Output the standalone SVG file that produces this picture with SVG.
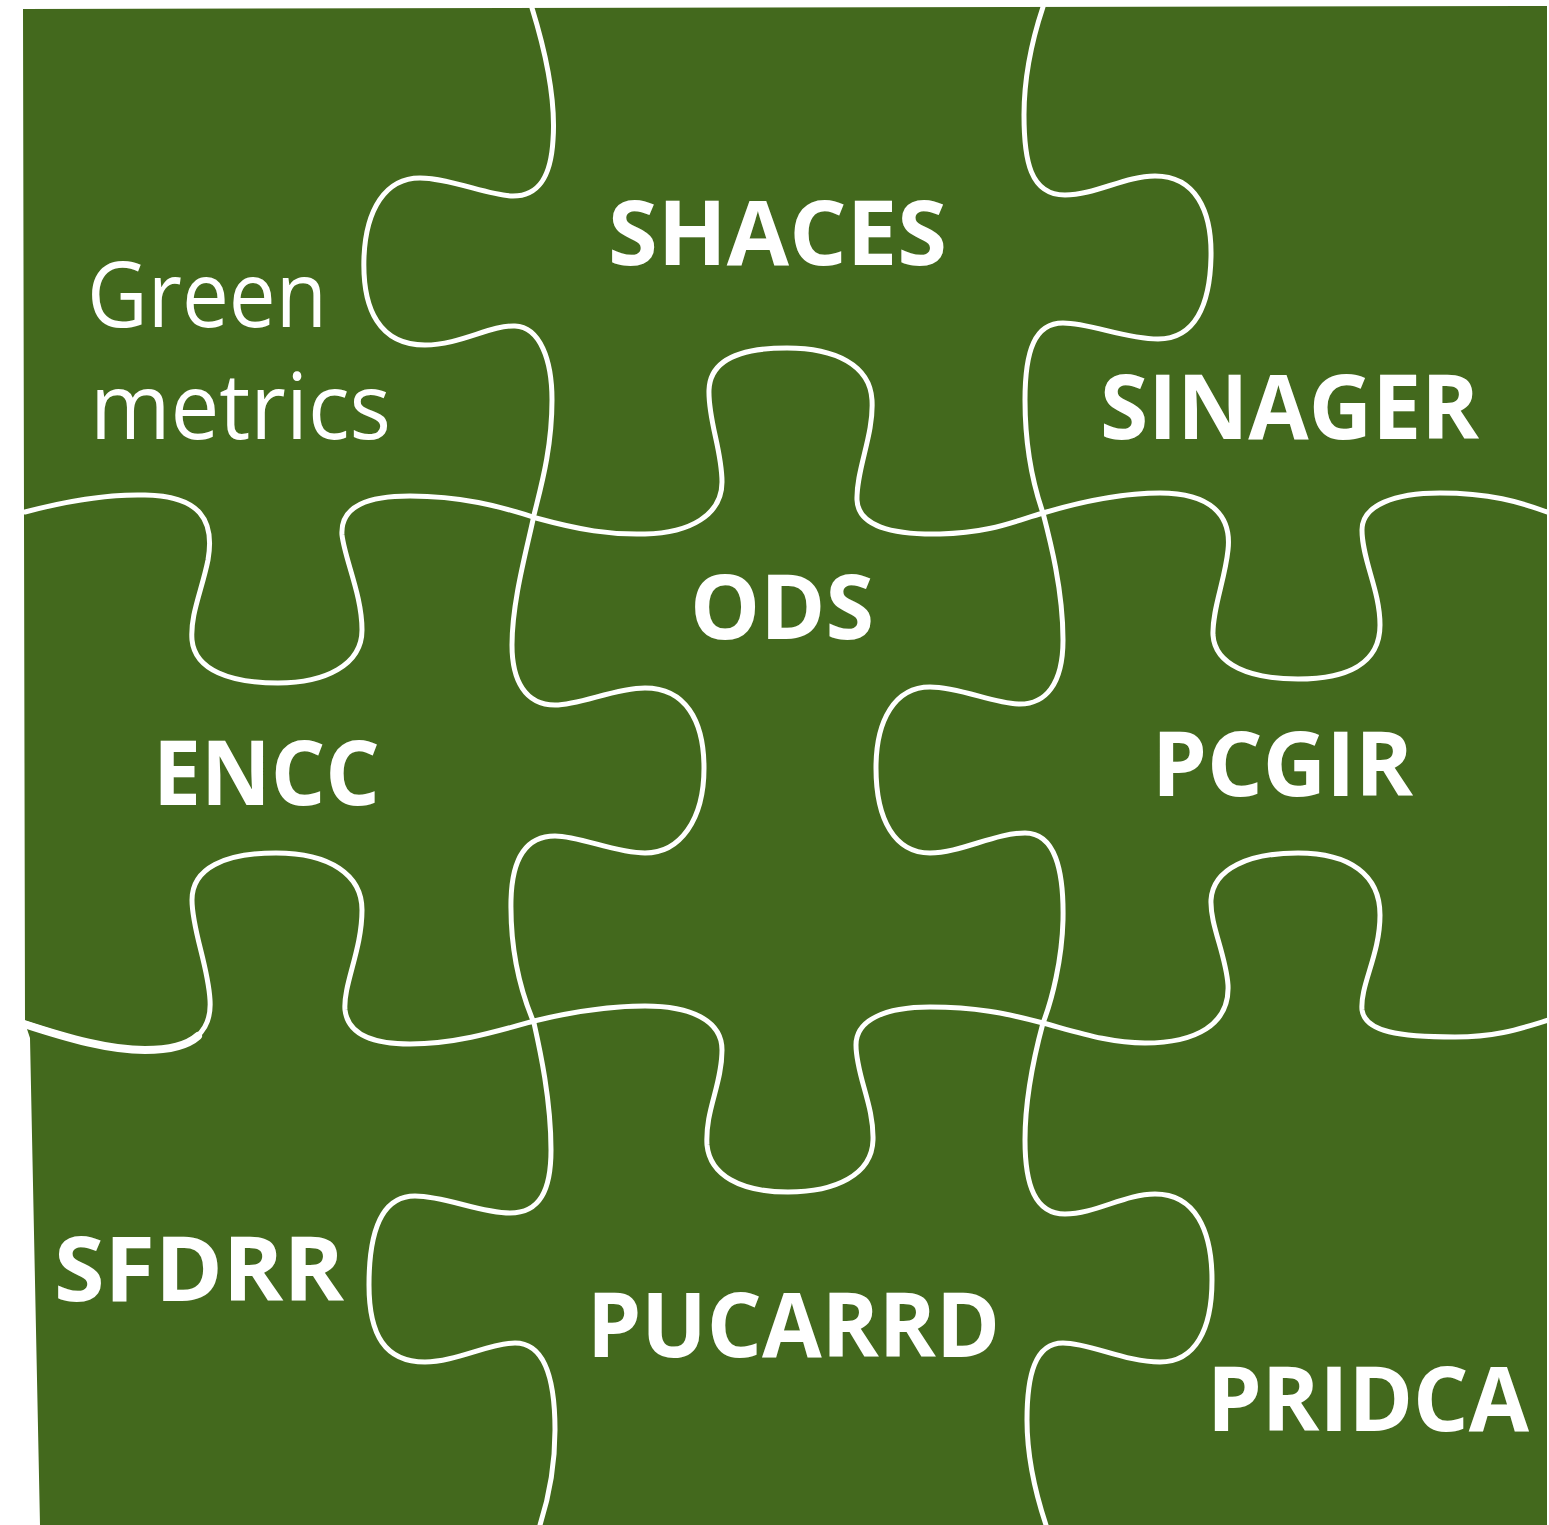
<svg xmlns="http://www.w3.org/2000/svg" width="1549" height="1525" viewBox="0 0 1549 1525">
  <style>
    .bg { fill: #43691d; }
    .cut { fill: none; stroke: #ffffff; stroke-width: 5; stroke-linecap: round; stroke-linejoin: round; }
    .lbl { fill: #ffffff; font-family: "Open Sans", "Noto Sans", "Liberation Sans", sans-serif; font-weight: 700; font-size: 90px; }
    .lbl-r { fill: #ffffff; font-family: "Open Sans", "Noto Sans", "Liberation Sans", sans-serif; font-weight: 400; font-size: 91px; }
  </style>
  <rect x="0" y="0" width="1549" height="1525" fill="#ffffff"/>
  <g id="board">
    <path class="bg" d="M23,9 L1547,6 L1547,1525 L40,1525 L30,1038 L25,1023 Z"/>
  </g>
  <g id="connectors">
    <path class="cut" d="M532,8 C545,50 556,100 553,140 C551,175 540,196 513,196 C490,196 450,178 420,178 C385,178 366,210 364,257 C362,310 380,345 425,345 C460,345 490,325 515,326 C540,327 552,360 552,400 C552,450 540,490 534,515 C528,545 512,600 512,645 C512,680 525,705 555,705 C580,705 615,688 645,688 C685,688 704,720 704,768 C704,820 680,853 645,853 C615,853 580,836 555,836 C525,836 512,860 511,900 C510,950 520,990 534,1023 C540,1050 551,1100 551,1150 C551,1190 540,1213 510,1213 C480,1213 445,1196 415,1196 C380,1196 369,1235 369,1285 C369,1335 385,1362 425,1362 C455,1362 490,1343 515,1343 C545,1343 555,1380 555,1430 C555,1470 548,1500 540,1525"/>
    <path class="cut" d="M1043,7 C1032,40 1024,80 1024,115 C1024,160 1030,195 1065,195 C1095,195 1125,176 1155,176 C1195,176 1212,210 1211,257 C1210,305 1195,339 1158,339 C1125,339 1090,323 1063,323 C1035,323 1025,350 1025,400 C1025,450 1035,490 1043,513 C1050,540 1063,590 1063,640 C1063,685 1045,704 1020,704 C995,704 960,687 930,687 C895,687 876,720 876,768 C876,820 895,853 930,853 C960,853 995,833 1025,833 C1055,833 1064,870 1063,920 C1062,960 1052,1000 1043,1023 C1033,1060 1025,1100 1025,1140 C1025,1185 1035,1214 1065,1214 C1095,1214 1125,1194 1155,1194 C1195,1194 1212,1230 1212,1280 C1212,1330 1195,1362 1160,1362 C1125,1362 1090,1343 1063,1343 C1035,1343 1027,1375 1027,1420 C1027,1460 1036,1495 1046,1525"/>
    <path class="cut" d="M25,512 C70,500 110,494 145,495 C200,496 215,520 208,560 C202,590 190,615 192,640 C195,670 230,683 278,683 C325,683 362,665 362,630 C362,595 345,560 342,535 C340,505 370,496 410,496 C460,496 500,506 536,518 C580,530 610,535 645,534 C690,533 722,515 722,482 C722,450 708,420 709,390 C710,360 740,348 787,348 C835,348 870,365 872,400 C874,435 856,470 857,500 C858,525 890,535 940,534 C990,533 1015,521 1043,513 C1080,502 1120,493 1160,493 C1210,493 1232,515 1228,550 C1225,580 1212,610 1213,635 C1215,665 1250,679 1298,679 C1345,679 1380,665 1380,625 C1380,590 1362,560 1362,530 C1362,505 1395,493 1440,493 C1490,493 1520,502 1547,512"/>
    <path class="cut" d="M25,1023 C70,1038 110,1050 145,1050 C195,1050 212,1030 210,1000 C208,965 192,930 192,900 C192,868 225,853 276,853 C330,853 362,875 362,910 C362,950 343,985 345,1010 C348,1035 375,1044 410,1044 C455,1044 495,1032 534,1021 C575,1011 610,1006 645,1006 C690,1006 722,1020 722,1050 C722,1085 705,1110 707,1145 C710,1175 740,1192 788,1192 C835,1192 872,1175 873,1140 C874,1105 856,1075 856,1045 C856,1020 885,1007 930,1007 C975,1007 1005,1013 1043,1023 C1080,1033 1110,1043 1145,1043 C1195,1043 1230,1025 1228,985 C1226,955 1210,925 1211,900 C1213,868 1250,853 1298,853 C1350,853 1380,875 1380,915 C1380,955 1360,985 1362,1010 C1365,1032 1400,1037 1455,1037 C1500,1037 1525,1027 1549,1020"/>
    <path class="cut" style="stroke-width:8" d="M24,1024 C70,1039 110,1050 145,1050 C170,1050 188,1045 198,1036"/>
  </g>
  <g id="piece-green-metrics">
    <text class="lbl-r" x="87" y="327" textLength="240" lengthAdjust="spacingAndGlyphs">Green</text>
    <text class="lbl-r" x="90" y="439" textLength="301" lengthAdjust="spacingAndGlyphs">metrics</text>
  </g>
  <g id="piece-shaces"><text class="lbl" x="608" y="265" textLength="339" lengthAdjust="spacingAndGlyphs">SHACES</text></g>
  <g id="piece-sinager"><text class="lbl" x="1100" y="439" textLength="379" lengthAdjust="spacingAndGlyphs">SINAGER</text></g>
  <g id="piece-encc"><text class="lbl" x="153" y="805" textLength="227" lengthAdjust="spacingAndGlyphs">ENCC</text></g>
  <g id="piece-ods"><text class="lbl" x="690" y="639" textLength="184" lengthAdjust="spacingAndGlyphs">ODS</text></g>
  <g id="piece-pcgir"><text class="lbl" x="1152" y="796" textLength="261" lengthAdjust="spacingAndGlyphs">PCGIR</text></g>
  <g id="piece-sfdrr"><text class="lbl" x="54" y="1301" textLength="290" lengthAdjust="spacingAndGlyphs">SFDRR</text></g>
  <g id="piece-pucarrd"><text class="lbl" x="587" y="1357" textLength="413" lengthAdjust="spacingAndGlyphs">PUCARRD</text></g>
  <g id="piece-pridca"><text class="lbl" x="1207" y="1431" textLength="322" lengthAdjust="spacingAndGlyphs">PRIDCA</text></g>
</svg>
